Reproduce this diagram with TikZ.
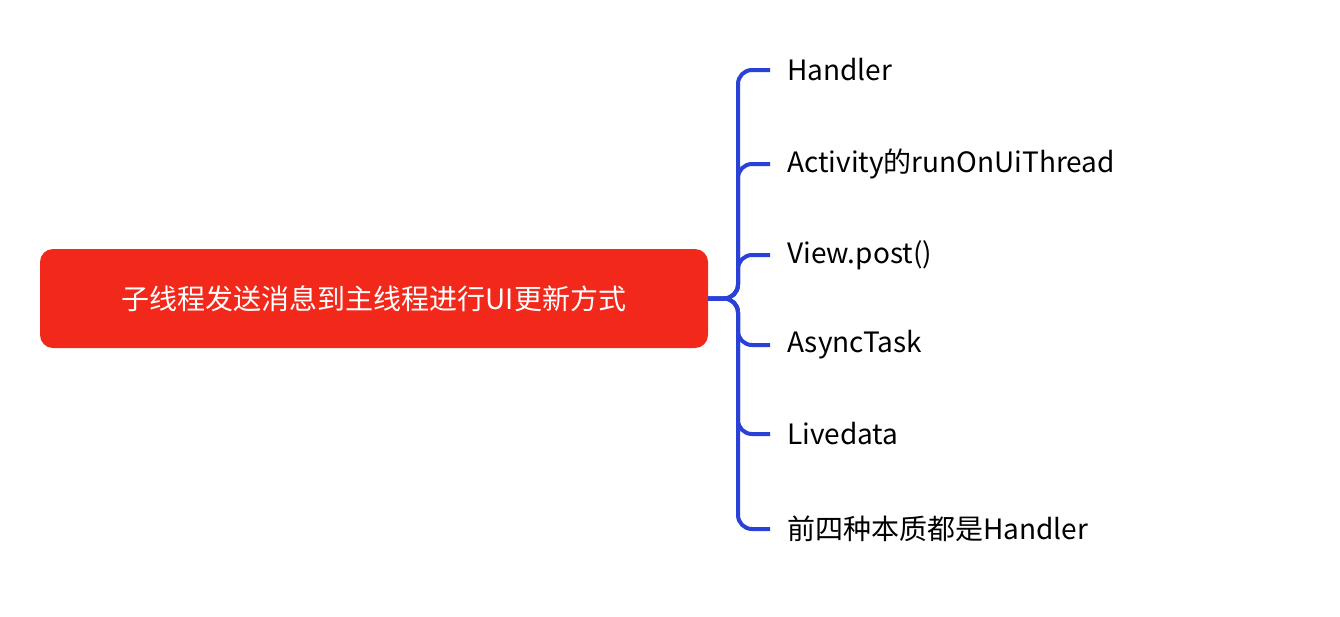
\documentclass[tikz,border=0pt]{standalone}
\usepackage{fontspec}
\setmainfont{Noto Sans CJK SC}
\definecolor{rootred}{HTML}{F2281B}
\definecolor{linkblue}{HTML}{2A41D8}
\begin{document}
\begin{tikzpicture}[x=1pt,y=-1pt,
  leaf/.style={anchor=west,inner xsep=17pt,inner ysep=2pt,font=\fontsize{28}{32}\selectfont,text=black},
  link/.style={draw=linkblue,line width=4pt,rounded corners=14pt}]
\useasboundingbox (0,0) rectangle (1340,616);
\node[fill=rootred,rounded corners=13pt,minimum width=668pt,minimum height=99pt,text=white,font=\fontsize{28}{32}\selectfont] (root) at (374,298.5) {子线程发送消息到主线程进行UI更新方式};
\coordinate (j) at (738,298.5);
\node[leaf] (l1) at (770,70) {Handler};
\node[leaf] (l2) at (770,164) {Activity的runOnUiThread};
\node[leaf] (l3) at (770,255) {View.post()};
\node[leaf] (l4) at (770,345) {AsyncTask};
\node[leaf] (l5) at (770,434) {Livedata};
\node[leaf] (l6) at (770,529) {前四种本质都是Handler};
\foreach \n in {l1,l2,l3,l4,l5,l6}
  \draw[link] (root.east) -- (j) |- (\n.west);
\end{tikzpicture}
\end{document}
